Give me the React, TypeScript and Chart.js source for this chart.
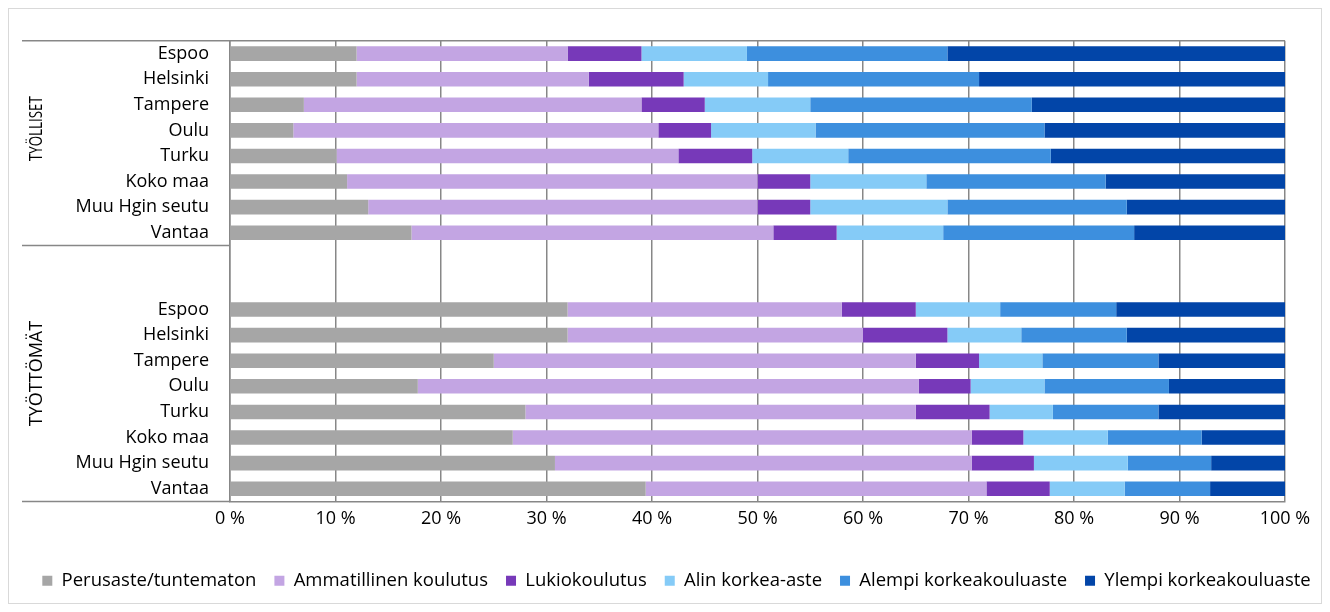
import React, { useEffect, useRef } from "react";
import { Chart, registerables } from "chart.js";

Chart.register(...registerables);

const cities = ["Espoo", "Helsinki", "Tampere", "Oulu", "Turku", "Koko maa", "Muu Hgin seutu", "Vantaa"];
const groupNames = ["TYÖLLISET", "TYÖTTÖMÄT"];
const seriesNames = [
  "Perusaste/tuntematon",
  "Ammatillinen koulutus",
  "Lukiokoulutus",
  "Alin korkea-aste",
  "Alempi korkeakouluaste",
  "Ylempi korkeakouluaste",
];
const seriesColors = ["#a6a6a6", "#c3a5e3", "#7739b9", "#85cbf7", "#3d8fde", "#0245a8"];

// TYÖLLISET (employed), %
const employedPerusaste = [12, 12, 7, 6, 10.1, 11.1, 13.1, 17.2];
const employedAmmatillinen = [20, 22, 32, 34.6, 32.4, 38.9, 36.9, 34.3];
const employedLukio = [7, 9, 6, 5, 7, 5, 5, 6];
const employedAlin = [10, 8, 10, 9.9, 9.1, 11, 13, 10.1];
const employedAlempi = [19, 20, 21, 21.7, 19.2, 17, 17, 18.1];
const employedYlempi = [32, 29, 24, 22.8, 22.2, 17, 15, 14.3];

// TYÖTTÖMÄT (unemployed), %
const unemployedPerusaste = [32, 32, 25, 17.8, 28, 26.8, 30.8, 39.4];
const unemployedAmmatillinen = [26, 28, 40, 47.5, 37, 43.5, 39.5, 32.3];
const unemployedLukio = [7, 8, 6, 4.9, 7, 4.9, 5.9, 6];
const unemployedAlin = [8, 7, 6, 7, 6, 8, 8.9, 7.1];
const unemployedAlempi = [11, 10, 11, 11.8, 10, 8.9, 7.9, 8.1];
const unemployedYlempi = [16, 15, 12, 11, 12, 7.9, 7, 7.1];

const xTicks = [0, 10, 20, 30, 40, 50, 60, 70, 80, 90, 100];

const employedSeries = [employedPerusaste, employedAmmatillinen, employedLukio, employedAlin, employedAlempi, employedYlempi];
const unemployedSeries = [unemployedPerusaste, unemployedAmmatillinen, unemployedLukio, unemployedAlin, unemployedAlempi, unemployedYlempi];
const gapRows = 2;

const FONT = "'Open Sans', sans-serif";
const GRID = "#878787";

export default function App() {
  const ref = useRef<HTMLCanvasElement | null>(null);

  useEffect(() => {
    if (!ref.current) return;
    const gap = Array(gapRows).fill(null);
    const labels = [...cities, ...Array(gapRows).fill(""), ...cities];
    const datasets = seriesNames.map((name, i) => ({
      label: name,
      data: [...employedSeries[i], ...gap, ...unemployedSeries[i]],
      backgroundColor: seriesColors[i],
      borderColor: seriesColors[i],
      borderWidth: 0,
      barPercentage: 0.57,
      categoryPercentage: 1,
    }));

    const groupPlugin = {
      id: "groupLabels",
      afterLayout(chart: any) {
        const lg = chart.legend;
        if (lg) {
          const shift = 667.5 - (lg.left + lg.right) / 2;
          lg.left += shift;
          lg.right += shift;
        }
      },
      afterDraw(chart: any) {
        const { ctx, chartArea } = chart;
        const y = chart.scales.y;
        const n1 = cities.length;
        const total = labels.length;
        const half = (y.getPixelForValue(1) - y.getPixelForValue(0)) / 2;
        const sep = y.getPixelForValue(n1 - 1) + half;
        const xl = 13;
        ctx.save();
        ctx.strokeStyle = GRID;
        ctx.lineWidth = 1.5;
        ctx.beginPath();
        ctx.moveTo(xl, chartArea.top);
        ctx.lineTo(chartArea.right, chartArea.top);
        ctx.moveTo(xl, sep);
        ctx.lineTo(chartArea.left, sep);
        ctx.moveTo(xl, chartArea.bottom);
        ctx.lineTo(chartArea.left, chartArea.bottom);
        ctx.stroke();

        ctx.fillStyle = "#000";
        ctx.font = `18px ${FONT}`;
        ctx.textAlign = "center";
        ctx.textBaseline = "middle";
        const c1 = (chartArea.top + sep) / 2 - 14.5;
        const c2 = (sep + y.getPixelForValue(total - 1) + half) / 2;
        const items: [string, number, number][] = [
          [groupNames[0], c1, 0.74],
          [groupNames[1], c2, 1],
        ];
        items.forEach(([t, cy, sx]) => {
          ctx.save();
          ctx.translate(28, cy);
          ctx.rotate(-Math.PI / 2);
          ctx.scale(sx, 1);
          ctx.fillText(t, 0, 0);
          ctx.restore();
        });
        ctx.restore();
      },
    };

    const chart = new Chart(ref.current, {
      type: "bar",
      data: { labels, datasets },
      options: {
        indexAxis: "y",
        responsive: false,
        animation: false,
        devicePixelRatio: 1,
        layout: { padding: { top: 31, right: 0, bottom: 3, left: 0 } },
        scales: {
          x: {
            stacked: true,
            min: 0,
            max: 100,
            afterBuildTicks: (s: any) => {
              s.ticks = xTicks.map((v) => ({ value: v }));
            },
            afterFit: (s: any) => {
              s.height = 52;
            },
            grid: { color: GRID, lineWidth: 1.5, drawTicks: false },
            border: { display: true, color: GRID, width: 1.5 },
            ticks: {
              padding: 7,
              color: "#000",
              font: { family: FONT, size: 18 },
              callback: (v: any) => `${v} %`,
            },
          },
          y: {
            stacked: true,
            afterFit: (s: any) => {
              s.width = 221;
            },
            grid: { display: false, drawTicks: false },
            border: { display: true, color: GRID, width: 1.5 },
            ticks: {
              autoSkip: false,
              padding: 21,
              color: "#000",
              font: { family: FONT, size: 18 },
            },
          },
          spacer: {
            type: "linear",
            position: "right",
            display: true,
            afterFit: (s: any) => {
              s.width = 36;
            },
            grid: { display: false, drawTicks: false },
            border: { display: false },
            ticks: { display: false },
          },
        },
        plugins: {
          legend: {
            position: "bottom",
            labels: {
              boxWidth: 10,
              boxHeight: 10,
              padding: 18,
              color: "#000",
              font: { family: FONT, size: 18.5 },
            },
          },
          tooltip: { enabled: false },
        },
      },
      plugins: [groupPlugin],
    });
    return () => chart.destroy();
  }, []);

  return (
    <div style={{ width: 1312, height: 594, border: "1px solid #d9d9d9" }}>
      <canvas ref={ref} width={1312} height={594} />
    </div>
  );
}
